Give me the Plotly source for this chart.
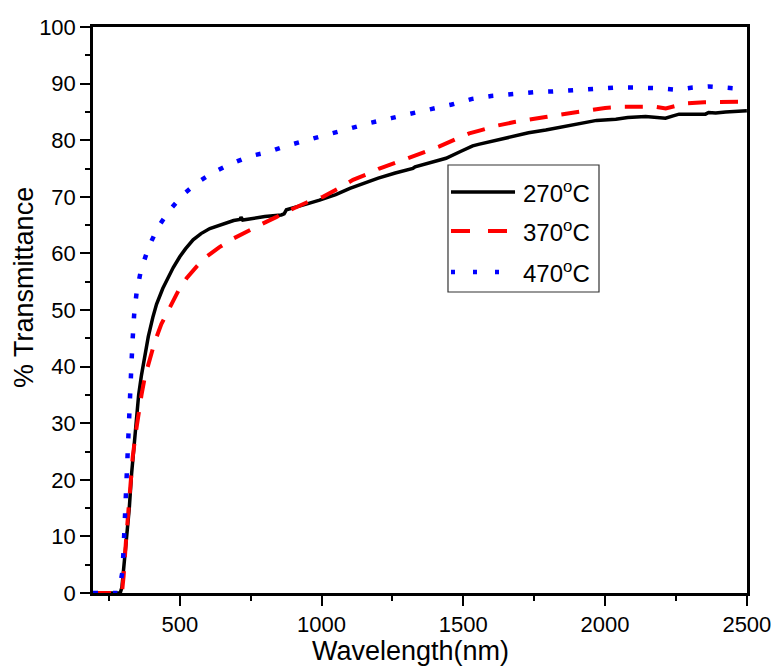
import plotly.graph_objects as go

# ---------------- data ----------------
wl_270 = [194, 290, 296, 302, 308, 315, 322, 330, 340, 348, 355, 365, 378, 389, 405, 418,
          440, 459, 477, 500, 520, 547, 575, 606, 650, 690, 712, 716, 722, 760, 800, 858,
          868, 876, 900, 952, 993, 1050, 1100, 1146, 1200, 1260, 1300, 1322, 1330, 1380,
          1439, 1490, 1533, 1557, 1621, 1674, 1730, 1791, 1850, 1909, 1970, 2038, 2080,
          2143, 2190, 2213, 2240, 2261, 2300, 2354, 2365, 2390, 2425, 2460, 2500]
t_270 = [0, 0, 1, 4, 7, 10, 15, 21, 27, 31, 35, 38.5, 42, 45.3, 48.7, 51,
         53.8, 55.8, 57.5, 59.4, 60.8, 62.4, 63.5, 64.4, 65.2, 65.8, 66.0, 66.4, 65.9, 66.2, 66.5, 66.8,
         67.0, 67.7, 68.0, 68.8, 69.4, 70.4, 71.5, 72.4, 73.3, 74.2, 74.8, 75.0, 75.3, 76.0,
         76.8, 78.0, 79.0, 79.3, 80.0, 80.6, 81.3, 81.8, 82.4, 83.0, 83.5, 83.7, 84.0,
         84.2, 84.1, 83.9, 84.3, 84.6, 84.6, 84.6, 84.9, 84.8, 85.0, 85.1, 85.2]

wl_370 = [194, 292, 297, 302, 310, 320, 334, 344, 353, 365, 377, 395, 412, 435, 465, 495,
          524, 560, 594, 640, 688, 740, 794, 840, 888, 899, 952, 1005, 1060, 1111, 1160,
          1204, 1260, 1322, 1370, 1416, 1470, 1521, 1557, 1621, 1680, 1733, 1790, 1838,
          1890, 1944, 2000, 2061, 2120, 2178, 2214, 2250, 2284, 2350, 2413, 2500]
t_370 = [0, 0, 0.5, 3, 9, 16, 24, 28, 31.2, 35, 38.2, 41.5, 44.4, 47.5, 50.6, 53.4,
         55.6, 57.7, 59.4, 61.1, 62.6, 64.0, 65.3, 66.4, 67.7, 67.9, 69.1, 70.0, 71.5, 73.0, 74.0,
         75.0, 76.0, 77.1, 78.0, 78.9, 80.1, 81.2, 81.7, 82.6, 83.2, 83.7, 84.1, 84.5,
         84.9, 85.3, 85.7, 85.9, 85.9, 85.9, 85.6, 86.1, 86.5, 86.7, 86.8, 86.8]

wl_470 = [194, 280, 286, 292, 298, 302, 305, 310, 313, 316, 321, 324, 327, 330, 334, 339,
          348, 363, 391, 424, 465, 514, 567, 621, 679, 749, 811, 876, 970, 1040, 1111,
          1175, 1246, 1316, 1386, 1459, 1531, 1598, 1674, 1750, 1809, 1885, 1961, 2032,
          2108, 2183, 2256, 2309, 2366, 2425, 2490, 2500]
t_470 = [0, 0, 0.5, 2, 3.8, 7.9, 12, 16.1, 20.3, 24.4, 28.5, 32.6, 36.7, 40.9, 45, 49.1,
         53.2, 57, 61.2, 64.7, 67.7, 70.5, 72.7, 74.4, 75.8, 77.2, 77.9, 79.0, 80.3, 81.3, 82.2,
         83.1, 83.9, 84.8, 85.5, 86.3, 87.3, 87.8, 88.2, 88.5, 88.6, 88.8, 89.0, 89.3,
         89.3, 89.2, 88.9, 89.3, 89.5, 89.2, 89.0, 89.0]

series_names = ["270<sup>o</sup>C", "370<sup>o</sup>C", "470<sup>o</sup>C"]
x_ticks = [500, 1000, 1500, 2000, 2500]
y_ticks = [0, 10, 20, 30, 40, 50, 60, 70, 80, 90, 100]

FONT = "Arial, Liberation Sans, sans-serif"
styles = [
    dict(color="#000000", width=3.5, dash="solid"),
    dict(color="#ff0000", width=4, dash="18px,14px"),
    dict(color="#0000ff", width=4.5, dash="5px,15px"),
]
legend_dash = ["solid", "19px,18px", "4px,18px"]

fig = go.Figure()
for xs, ys, nm, st in zip([wl_270, wl_370, wl_470], [t_270, t_370, t_470], series_names, styles):
    fig.add_trace(go.Scatter(x=xs, y=ys, mode="lines", name=nm, line=st, showlegend=False))

axis_common = dict(
    showgrid=False, zeroline=False, showline=True, linecolor="black", linewidth=2.5,
    mirror=True, ticks="outside", ticklen=10, tickwidth=2, tickcolor="black",
    tickfont=dict(family=FONT, size=22, color="black"), automargin=False,
)

fig.update_xaxes(range=[194, 2500.5], tickvals=x_ticks, ticktext=[str(v) for v in x_ticks],
                 minor=dict(tickvals=[250, 750, 1250, 1750, 2250], ticks="outside",
                            ticklen=5, tickwidth=2, tickcolor="black"),
                 **axis_common)
fig.update_yaxes(range=[0, 100], tickvals=y_ticks, ticktext=[str(v) for v in y_ticks],
                 minor=dict(dtick=5, ticks="outside", ticklen=5, tickwidth=2, tickcolor="black"),
                 **axis_common)

# ---- custom legend (box, samples, labels) in paper coordinates ----
shapes = [dict(type="rect", xref="paper", yref="paper", x0=0.5428, x1=0.7737,
               y0=0.5318, y1=0.7562, line=dict(color="#333333", width=1.2),
               fillcolor="rgba(255,255,255,0)", layer="above")]
annotations = []
row_y = [0.7085, 0.6396, 0.5671]
for ry, nm, st, ld in zip(row_y, series_names, styles, legend_dash):
    shapes.append(dict(type="line", xref="paper", yref="paper", x0=0.5474, x1=0.6453,
                       y0=ry, y1=ry, line=dict(color=st["color"], width=st["width"], dash=ld),
                       layer="above"))
    annotations.append(dict(text=nm, x=0.6545, y=ry, xref="paper", yref="paper",
                            xanchor="left", yanchor="middle", showarrow=False,
                            font=dict(family=FONT, size=24, color="black")))

annotations += [
    dict(text="Wavelength(nm)", x=0.486, y=-0.1025, xref="paper", yref="paper",
         xanchor="center", yanchor="middle", showarrow=False,
         font=dict(family=FONT, size=27, color="black")),
    dict(text="% Transmittance", x=-0.1055, y=0.539, xref="paper", yref="paper",
         xanchor="center", yanchor="middle", showarrow=False, textangle=-90,
         font=dict(family=FONT, size=27, color="black")),
]

fig.update_layout(
    width=774, height=672,
    margin=dict(l=93, r=27, t=27, b=79),
    plot_bgcolor="white", paper_bgcolor="white",
    font=dict(family=FONT, color="black"),
    showlegend=False,
    shapes=shapes,
    annotations=annotations,
)

fig.write_html("out.html")
